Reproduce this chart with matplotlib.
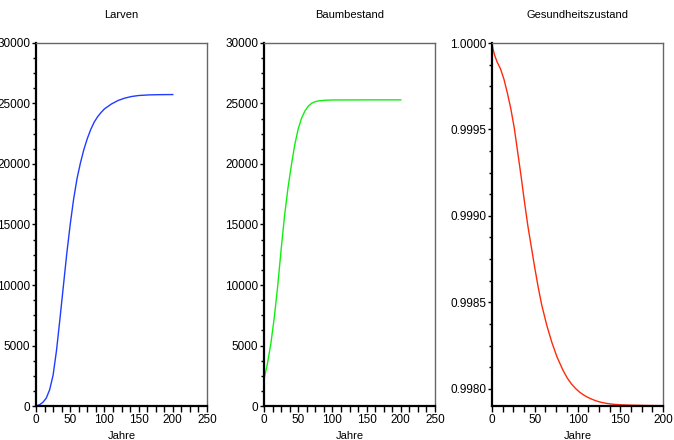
import matplotlib
matplotlib.use("Agg")
import matplotlib.pyplot as plt
from matplotlib.ticker import MultipleLocator, FormatStrFormatter

plt.rcParams["font.family"] = ["Liberation Sans", "DejaVu Sans"]
plt.rcParams["font.size"] = 8

# Larven
larven_years = [0, 5, 10, 15, 20, 25, 30, 35, 40, 45, 50, 55, 60, 65, 70, 75,
                80, 85, 90, 95, 100, 110, 120, 130, 140, 150, 165, 180, 200]
larven = [0, 100, 300, 650, 1350, 2550, 4600, 7200, 9900, 12600, 15000, 17100,
          18800, 20100, 21200, 22100, 22850, 23450, 23900, 24250, 24550, 24950,
          25250, 25450, 25580, 25660, 25710, 25730, 25740]

# Baumbestand
baum_years = [0, 5, 10, 15, 20, 25, 30, 35, 40, 45, 50, 55, 60, 65, 70, 75, 80,
              90, 100, 150, 200]
baum = [2200, 3500, 5150, 7300, 9900, 12900, 15700, 18000, 19900, 21600, 22900,
        23800, 24400, 24800, 25030, 25150, 25220, 25270, 25290, 25300, 25300]

# Gesundheitszustand
gesund_years = [0, 1, 3, 6, 10, 14, 18, 22, 26, 30, 34, 38, 42, 46, 50, 54, 58,
                64, 70, 76, 83, 88, 93, 98, 103, 109, 115, 121, 127, 134, 142,
                150, 161, 180, 200]
gesund = [1.00000, 0.99997, 0.99993, 0.99989, 0.99985, 0.99979, 0.99971,
          0.99962, 0.99951, 0.99937, 0.99923, 0.99908, 0.99894, 0.99882,
          0.99870, 0.998588, 0.998488, 0.998368, 0.998268, 0.998184, 0.998107,
          0.998062, 0.998027, 0.998000, 0.997978, 0.997958, 0.997943,
          0.997931, 0.997922, 0.997915, 0.997910, 0.997907, 0.997905,
          0.997903, 0.997902]

fig = plt.figure(figsize=(6.74, 4.40), dpi=100)
W, H = 674, 440


def make_axes(x0, x1):
    return fig.add_axes([x0 / W, 1 - 406 / H, (x1 - x0) / W, (406 - 43) / H])


def style(ax, title):
    ax.set_title(title, fontsize=8, pad=18)
    ax.set_xlabel("Jahre", fontsize=8, labelpad=3.5)
    for side in ("left", "bottom"):
        ax.spines[side].set_linewidth(1.6)
        ax.spines[side].set_color("black")
    for side in ("top", "right"):
        ax.spines[side].set_linewidth(1.0)
        ax.spines[side].set_color("#666666")
    ax.tick_params(which="major", direction="out", length=3, width=1, pad=1,
                   labelsize=8.5)
    ax.tick_params(which="minor", direction="out", length=2, width=1)
    ax.tick_params(axis="x", which="both", length=4, pad=2)


ax1 = make_axes(36, 207)
ax1.plot(larven_years, larven, color="#1f3cff", linewidth=1)
ax1.set_xlim(0, 250)
ax1.set_ylim(0, 30000)
ax1.xaxis.set_major_locator(MultipleLocator(50))
ax1.xaxis.set_minor_locator(MultipleLocator(12.5))
ax1.yaxis.set_major_locator(MultipleLocator(5000))
ax1.yaxis.set_minor_locator(MultipleLocator(1250))
style(ax1, "Larven")

ax2 = make_axes(264, 435)
ax2.plot(baum_years, baum, color="#11ee11", linewidth=1)
ax2.set_xlim(0, 250)
ax2.set_ylim(0, 30000)
ax2.xaxis.set_major_locator(MultipleLocator(50))
ax2.xaxis.set_minor_locator(MultipleLocator(12.5))
ax2.yaxis.set_major_locator(MultipleLocator(5000))
ax2.yaxis.set_minor_locator(MultipleLocator(1250))
style(ax2, "Baumbestand")

ax3 = make_axes(492, 663)
ax3.plot(gesund_years, gesund, color="#ff2a0a", linewidth=1)
ax3.set_xlim(0, 200)
ax3.set_ylim(0.9979, 1.0)
ax3.xaxis.set_major_locator(MultipleLocator(50))
ax3.xaxis.set_minor_locator(MultipleLocator(12.5))
ax3.yaxis.set_major_locator(MultipleLocator(0.0005))
ax3.yaxis.set_minor_locator(MultipleLocator(0.000125))
ax3.yaxis.set_major_formatter(FormatStrFormatter("%.4f"))
style(ax3, "Gesundheitszustand")

fig.savefig("out.png", dpi=100)
